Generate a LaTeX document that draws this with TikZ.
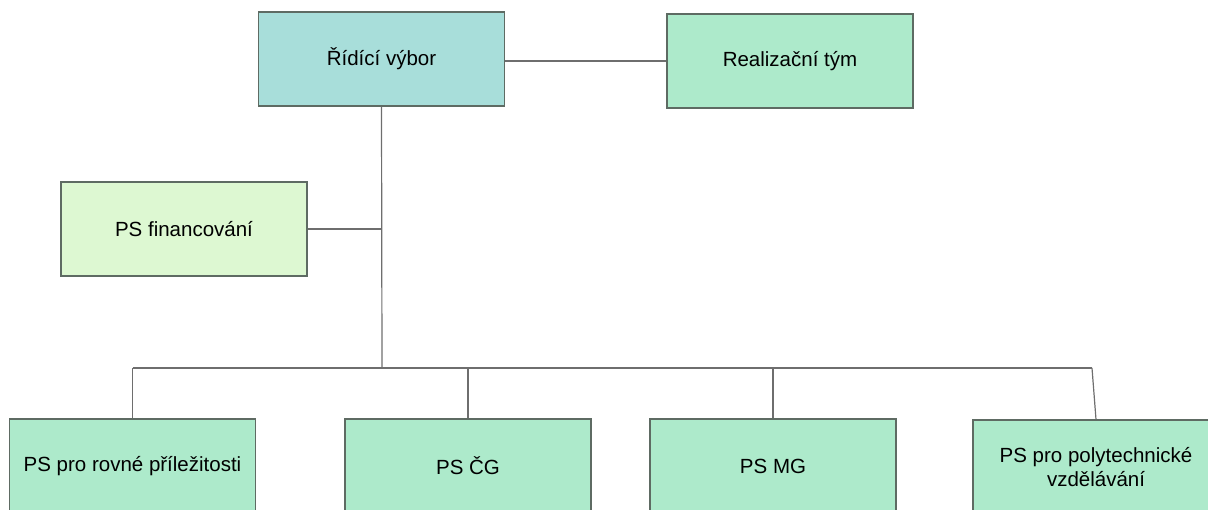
\documentclass[tikz,border=0pt]{standalone}
\usepackage{fontspec}
\setmainfont{Liberation Sans}
\usepackage{tikz}
\definecolor{vyborteal}{HTML}{A8DEDA}
\definecolor{psgreen}{HTML}{ADEACB}
\definecolor{finlight}{HTML}{DDF8D2}
\definecolor{boxrim}{HTML}{5E6B63}
\definecolor{linkgray}{HTML}{6E6E6E}

\begin{document}
\begin{tikzpicture}[x=1pt, y=-1pt,
					box/.style={draw=boxrim, line width=1.1pt, minimum width=246pt, minimum height=94pt, inner sep=2pt, align=center, font=\fontsize{20.5}{24}\selectfont},
					link/.style={draw=linkgray, line width=1.2pt}]
					%Bildbereich
					\useasboundingbox (0,0) rectangle (1208,509);
					\clip (0,0) rectangle (1208,509);
					% oberste Ebene
					\node[box, fill=vyborteal] (rv) at (381.5,59) {Řídící výbor};
					\node[box, fill=psgreen] (rt) at (790,61) {Realizační tým};
					\node[box, fill=finlight] (fin) at (184,229) {PS financování};
					% Pracovní skupiny
					\node[box, fill=psgreen] (p1) at (132.5,466) {PS pro rovné příležitosti};
					\node[box, fill=psgreen] (p2) at (468,466) {PS ČG};
					\node[box, fill=psgreen] (p3) at (773,466) {PS MG};
					\node[box, fill=psgreen] (p4) at (1096,467) {PS pro polytechnické\\vzdělávání};
					% Verbindungen
					\coordinate (bus) at (382,368);
					\coordinate (busend) at (1092,368);
					\draw[link] (rt.west) -- (rt.west -| rv.east);
					\draw[link] (rv.south) -- (bus);
					\draw[link] (fin.east) -- (fin.east -| rv.south);
					\draw[link] (p1.north |- bus) -- (busend);
					\foreach \p in {p1,p2,p3} \draw[link] (\p.north |- bus) -- (\p.north);
					\draw[link] (busend) -- (p4.north);
				\end{tikzpicture}
\end{document}
